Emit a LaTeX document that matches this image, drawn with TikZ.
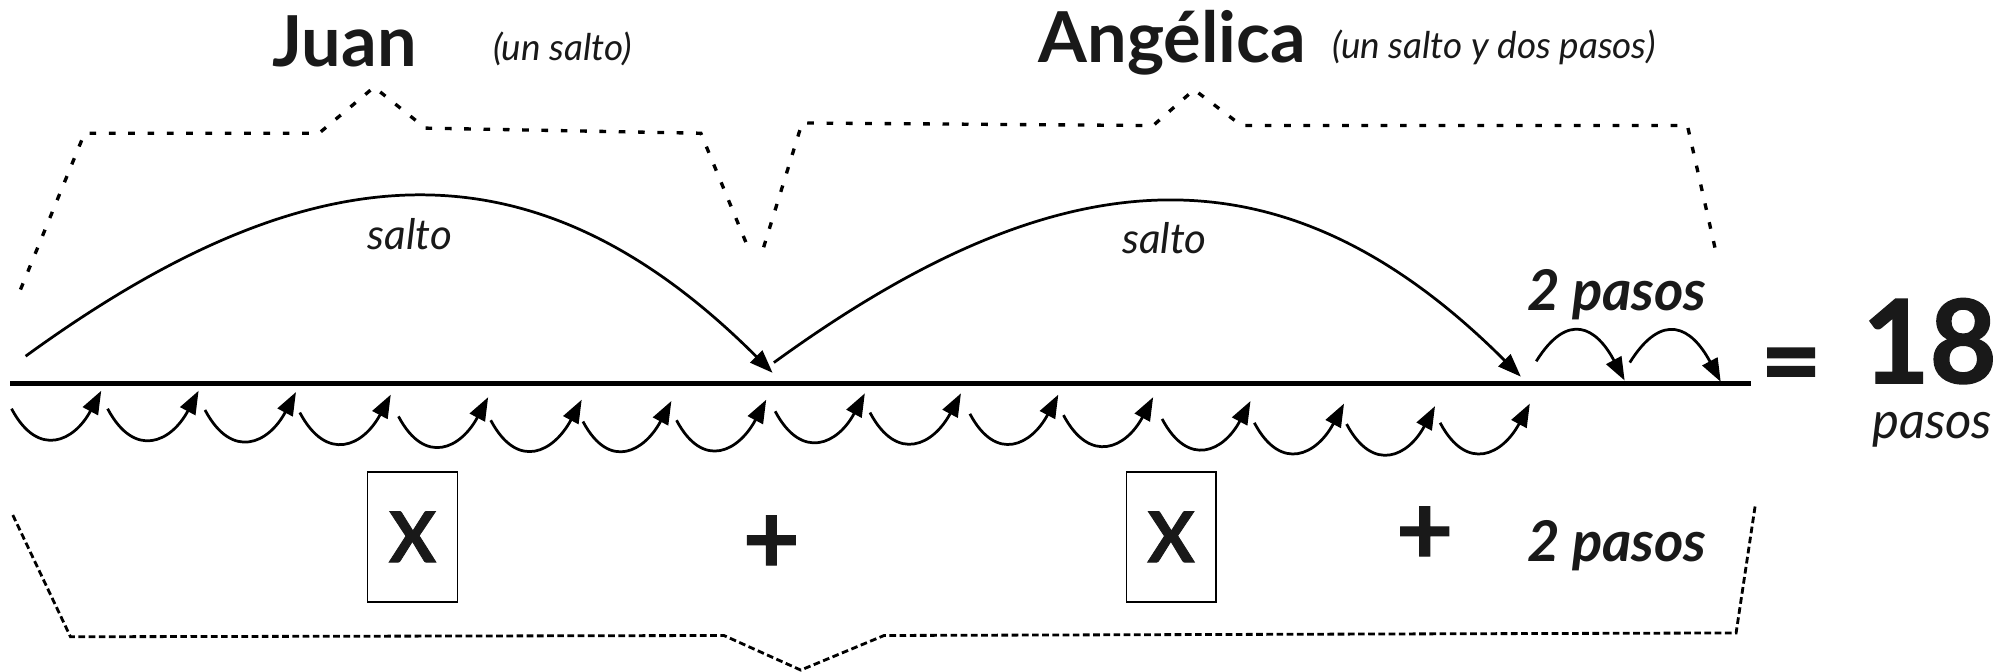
\documentclass[tikz,border=0pt]{standalone}
\usepackage{fontspec}
\setmainfont{Lato}
\newfontfamily\heavyfont[BoldFeatures={FakeBold=1.2}]{Lato}
\usetikzlibrary{arrows.meta}

\begin{document}
\begin{tikzpicture}[x=0.012813cm, y=0.012813cm,
  >={Triangle[length=6.6pt,width=4.8pt]},
  jump/.style={->, line width=0.78pt},
  hop/.style={->, line width=0.78pt, out=-62, in=-118, looseness=1.6},
  brace/.style={line width=0.95pt, dash pattern=on 1.9pt off 3.6pt},
  bigbrace/.style={line width=0.8pt, dash pattern=on 1.9pt off 1pt},
  every node/.style={text=black!90, inner sep=0pt}]
  \useasboundingbox (0,0) rectangle (1568,524);

  % number line
  \coordinate (lstart) at (8,225);
  \coordinate (lend) at (1367,225);
  \draw[line width=1.4pt] (lstart) -- (lend);

  % single steps under the line
  \foreach \i/\sx/\sy/\tx/\ty in {1/9/205/79/219, 2/84/205/155/219, 3/160/204/231/218,
      4/234/202/305/216, 5/311/199/381/214, 6/383/196/454/212, 7/455/195/524/211,
      8/528/196/598/212, 9/605/203/675/217, 10/679/202/750/217, 11/757/201/826/216,
      12/830/200/900/214, 13/907/197/976/211, 14/979/194/1049/209, 15/1051/193/1120/207,
      16/1124/194/1194/209}{
    \coordinate (hs\i) at (\sx,\sy);
    \coordinate (ht\i) at (\tx,\ty);
    \draw[hop] (hs\i) to (ht\i);
  }

  % the two jumps
  \coordinate (js1) at (20,246);
  \coordinate (je1) at (603,233);
  \coordinate (js2) at (604,241);
  \coordinate (je2) at (1187,230);
  \draw[jump] (js1) to[out=36, in=135, looseness=1.18] (je1);
  \draw[jump] (js2) to[out=36, in=135, looseness=1.18] (je2);
  \node[anchor=base] (salto1) at (320,329) {\fontsize{12}{14}\selectfont\itshape salto};
  \node[anchor=base] (salto2) at (909,326) {\fontsize{12}{14}\selectfont\itshape salto};

  % two extra steps on top
  \coordinate (ps1) at (1199,242);
  \coordinate (pe1) at (1268,227);
  \coordinate (ps2) at (1272,241);
  \coordinate (pe2) at (1343,226);
  \draw[jump] (ps1) to[out=58, in=118, looseness=1.7] (pe1);
  \draw[jump] (ps2) to[out=58, in=118, looseness=1.7] (pe2);
  \node[anchor=base] (pasostop) at (1262,282) {\fontsize{16}{19}\selectfont\bfseries\itshape 2 pasos};

  % result
  \node (equal) at (1398,233) {\fontsize{30}{36}\selectfont\heavyfont\bfseries =};
  \node[anchor=base] (total) at (1506,225) {\fontsize{33}{40}\selectfont\heavyfont\bfseries 18};
  \node[anchor=base] (totalunit) at (1508,182) {\fontsize{14.5}{17}\selectfont\itshape pasos};

  % brackets on top
  \draw[brace] (16,298) -- (66,420) -- (249,420) -- (292,456) -- (332,424)
    -- (547,420) -- (585,328);
  \draw[brace] (596,331) -- (626,428) -- (900,426) -- (932,454) -- (969,426)
    -- (1317,426) -- (1340,324);
  \node[anchor=base] (juan) at (269,472) {\fontsize{20}{24}\selectfont\bfseries Juan};
  \node[anchor=base] (juannote) at (439,477) {\fontsize{10.5}{13}\selectfont\itshape (un salto)};
  \node[anchor=base] (angelica) at (915,475) {\fontsize{20}{24}\selectfont\bfseries Angélica};
  \node[anchor=base] (angnote) at (1166,478) {\fontsize{10.5}{13}\selectfont\itshape (un salto y dos pasos)};

  % expression below
  \node[draw, line width=0.4pt, minimum width=25.5pt, minimum height=37pt] (x1) at (322,105)
    {\fontsize{20}{24}\selectfont\heavyfont\bfseries X};
  \node (plus1) at (602,99) {\fontsize{28}{34}\selectfont\heavyfont\bfseries +};
  \node[draw, line width=0.4pt, minimum width=25.5pt, minimum height=37pt] (x2) at (914,105)
    {\fontsize{20}{24}\selectfont\heavyfont\bfseries X};
  \node (plus2) at (1112,106) {\fontsize{28}{34}\selectfont\heavyfont\bfseries +};
  \node[anchor=base] (pasosbot) at (1262,86) {\fontsize{16}{19}\selectfont\bfseries\itshape 2 pasos};
  \draw[bigbrace] (10,122) -- (55,27) -- (565,28) -- (625,1) -- (690,28)
    -- (1355,30) -- (1370,130);
\end{tikzpicture}
\end{document}
